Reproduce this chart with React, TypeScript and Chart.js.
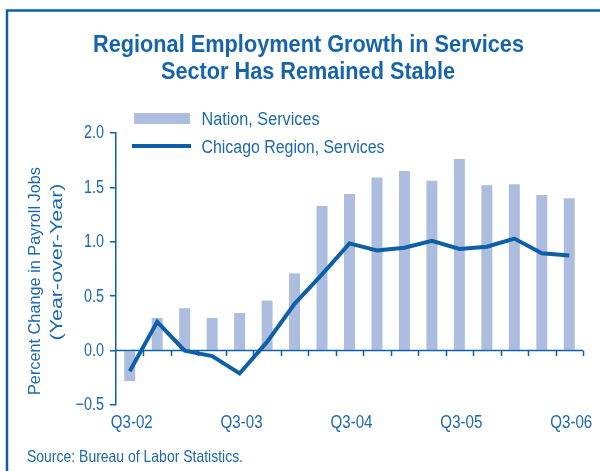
import React, { useEffect, useRef } from "react";
import { Chart, registerables } from "chart.js";

Chart.register(...registerables);

const quarters = [
  "Q3-02", "Q4-02", "Q1-03", "Q2-03",
  "Q3-03", "Q4-03", "Q1-04", "Q2-04",
  "Q3-04", "Q4-04", "Q1-05", "Q2-05",
  "Q3-05", "Q4-05", "Q1-06", "Q2-06",
  "Q3-06",
];
const nationServices = [
  -0.28, 0.30, 0.39, 0.30,
  0.345, 0.46, 0.71, 1.33,
  1.44, 1.59, 1.65, 1.56,
  1.76, 1.52, 1.53, 1.43,
  1.40,
];
const chicagoServices = [
  -0.19, 0.265, 0.0, -0.05,
  -0.21, 0.08, 0.43, 0.70,
  0.985, 0.92, 0.945, 1.01,
  0.935, 0.955, 1.03, 0.895,
  0.875,
];
const yTicks = [-0.5, 0, 0.5, 1.0, 1.5, 2.0];
const titleLines = ["Regional Employment Growth in Services", "Sector Has Remained Stable"];
const yTitleLines = ["Percent Change in Payroll Jobs", "(Year-over-Year)"];
const sourceText = "Source: Bureau of Labor Statistics.";

const BLUE = "#0d60a8";
const TEXT = "#1b68ae";
const BAR = "#adbde0";
const FONT = '"Liberation Sans", Arial, sans-serif';

function drawText(
  ctx: CanvasRenderingContext2D,
  s: string,
  x: number,
  y: number,
  size: number,
  bold: boolean,
  opts: { width?: number; sx?: number; align?: CanvasTextAlign; baseline?: CanvasTextBaseline; rotate?: boolean }
) {
  ctx.save();
  ctx.font = `${bold ? "bold " : ""}${size}px ${FONT}`;
  ctx.textAlign = opts.align || "left";
  ctx.textBaseline = opts.baseline || "alphabetic";
  const w = ctx.measureText(s).width;
  const sx = opts.width ? opts.width / w : opts.sx || 1;
  ctx.translate(x, y);
  if (opts.rotate) ctx.rotate(-Math.PI / 2);
  ctx.scale(sx, 1);
  ctx.fillText(s, 0, 0);
  ctx.restore();
}

const decorPlugin = {
  id: "decor",
  beforeDraw(chart: any) {
    const ctx = chart.ctx;
    ctx.save();
    ctx.fillStyle = "#ffffff";
    ctx.fillRect(0, 0, chart.width, chart.height);
    ctx.strokeStyle = BLUE;
    ctx.lineWidth = 2.5;
    ctx.beginPath();
    ctx.moveTo(7, chart.height);
    ctx.lineTo(7, 10.5);
    ctx.lineTo(chart.width, 10.5);
    ctx.stroke();
    ctx.restore();
  },
  afterDatasetsDraw(chart: any) {
    const ctx = chart.ctx;
    const y = chart.scales.y;
    const area = chart.chartArea;
    const y0 = y.getPixelForValue(0);
    ctx.save();
    ctx.strokeStyle = BLUE;
    ctx.lineWidth = 1.5;
    ctx.beginPath();
    ctx.moveTo(area.left, y0);
    ctx.lineTo(area.right, y0);
    const n = quarters.length;
    const step = (area.right - area.left) / n;
    for (let i = 1; i <= n; i++) {
      const px = Math.round(area.left + i * step) + 0.5;
      ctx.moveTo(px, y0);
      ctx.lineTo(px, y0 + 5.5);
    }
    ctx.stroke();
    ctx.restore();
  },
  afterDraw(chart: any) {
    const ctx = chart.ctx;
    const ds = chart.data.datasets;
    const xs = chart.scales.x;
    const ys = chart.scales.y;
    ctx.save();
    // title
    ctx.fillStyle = "#1664ac";
    drawText(ctx, titleLines[0], 308.5, 52, 24, true, { width: 431, align: "center" });
    drawText(ctx, titleLines[1], 308, 78.5, 24, true, { width: 294, align: "center" });
    // legend
    ctx.fillStyle = ds[0].backgroundColor;
    ctx.fillRect(134, 113, 56, 11);
    ctx.strokeStyle = ds[1].borderColor;
    ctx.lineWidth = 4;
    ctx.beginPath();
    ctx.moveTo(132, 146);
    ctx.lineTo(191, 146);
    ctx.stroke();
    ctx.fillStyle = TEXT;
    drawText(ctx, ds[0].label, 201.5, 125, 18, false, { width: 118 });
    drawText(ctx, ds[1].label, 201.5, 153, 18, false, { width: 183 });
    // y title
    drawText(ctx, yTitleLines[0], 35, 281, 17, false, { width: 228, align: "center", baseline: "middle", rotate: true });
    drawText(ctx, yTitleLines[1], 57, 262, 17, false, { width: 157, align: "center", baseline: "middle", rotate: true });
    // y tick labels
    yTicks.forEach((v) => {
      const label = v < 0 ? "\u2212" + Math.abs(v).toFixed(1) : v.toFixed(1);
      drawText(ctx, label, 104, ys.getPixelForValue(v) + 0.5, 18, false, { sx: 0.8, align: "right", baseline: "middle" });
    });
    // x tick labels
    quarters.forEach((q, i) => {
      if (i % 4 !== 0) return;
      drawText(ctx, q, xs.getPixelForValue(i) + 2, 428, 18, false, { sx: 0.84, align: "center" });
    });
    // source
    drawText(ctx, sourceText, 27, 462, 16.5, false, { width: 216 });
    ctx.restore();
  },
};

export default function App() {
  const ref = useRef<HTMLCanvasElement | null>(null);
  useEffect(() => {
    if (!ref.current) return;
    const chart = new Chart(ref.current, {
      type: "bar",
      data: {
        labels: quarters,
        datasets: [
          {
            type: "bar",
            label: "Nation, Services",
            data: nationServices,
            backgroundColor: BAR,
            borderWidth: 0,
            barPercentage: 0.4,
            categoryPercentage: 1,
            order: 2,
          },
          {
            type: "line",
            label: "Chicago Region, Services",
            data: chicagoServices,
            borderColor: BLUE,
            backgroundColor: BLUE,
            borderWidth: 4,
            pointRadius: 0,
            tension: 0,
            order: 1,
          } as any,
        ],
      },
      options: {
        animation: false,
        responsive: false,
        maintainAspectRatio: false,
        layout: { padding: { left: 0, right: 17, top: 133, bottom: 26 } },
        plugins: {
          legend: { display: false },
          title: { display: false },
          tooltip: { enabled: false },
        },
        scales: {
          x: {
            type: "category",
            offset: true,
            grid: { display: false, drawTicks: false },
            border: { display: false },
            ticks: { display: false, autoSkip: false },
            afterFit: (s: any) => {
              s.height = 40;
            },
          },
          y: {
            min: -0.5,
            max: 2.0,
            afterBuildTicks: (s: any) => {
              s.ticks = yTicks.map((v) => ({ value: v }));
            },
            grid: { drawOnChartArea: false, drawTicks: true, tickLength: 6, color: BLUE, lineWidth: 1.5 },
            border: { display: true, color: BLUE, width: 1.5 },
            ticks: { display: false },
            afterFit: (s: any) => {
              s.width = 116;
            },
          },
        },
      },
      plugins: [decorPlugin],
    });
    return () => chart.destroy();
  }, []);
  return (
    <div style={{ position: "absolute", left: 0, top: 0, width: 600, height: 471 }}>
      <canvas ref={ref} width={600} height={471} style={{ display: "block", width: 600, height: 471 }} />
    </div>
  );
}
